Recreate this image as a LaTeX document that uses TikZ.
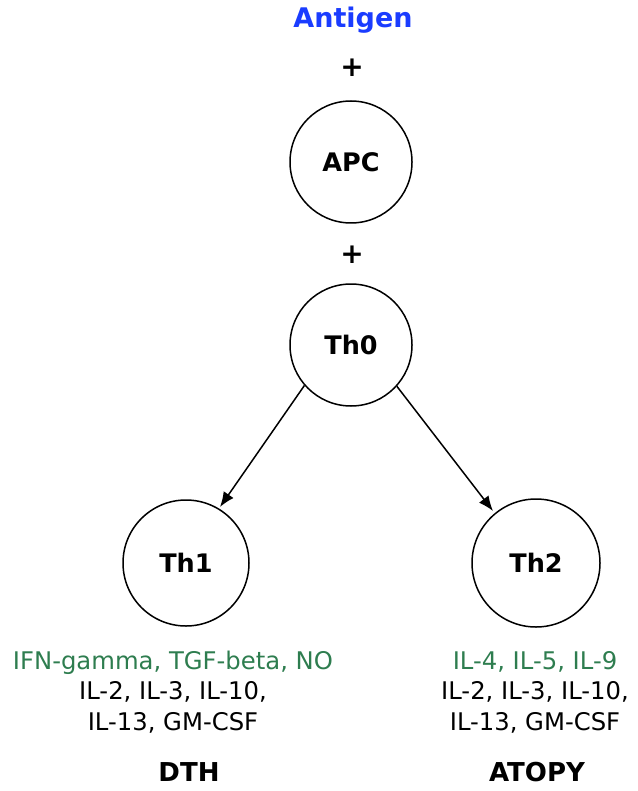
\documentclass[tikz,border=0pt]{standalone}
\usepackage{fontspec}
\setmainfont{DejaVu Sans}
\usetikzlibrary{arrows.meta}
\definecolor{antigenblue}{HTML}{1A3CFF}
\definecolor{cytogreen}{HTML}{2E7D4F}
\begin{document}
\begin{tikzpicture}[x=1pt,y=-1pt,
  cell/.style={circle, draw, line width=1.5pt, minimum size=122pt, inner sep=0pt, font=\fontsize{25.5}{30}\selectfont\bfseries},
  title/.style={font=\fontsize{26}{30}\selectfont\bfseries},
  sign/.style={font=\fontsize{28}{30}\selectfont\bfseries},
  cyto/.style={align=center, font=\fontsize{24.3}{30.5}\selectfont},
  link/.style={line width=1.5pt, -{Latex[length=15pt,width=12pt]}}]
\useasboundingbox (0,0) rectangle (637,791);
\node[title, font=\fontsize{27}{30}\selectfont\bfseries, text=antigenblue] (antigen) at (353,20) {Antigen};
\node[sign] (plus1) at (352,68) {+};
\node[cell] (apc) at (351,162) {APC};
\node[sign] (plus2) at (352,255) {+};
\node[cell] (th0) at (351,345) {Th0};
\node[cell, minimum size=126pt] (th1) at (186,563) {Th1};
\node[cell, minimum size=128pt] (th2) at (536,563) {Th2};
\coordinate (e1) at (220,507);
\coordinate (e2) at (493,511);
\draw[link] (th0.221) -- (e1);
\draw[link] (th0.318) -- (e2);
\node[cyto] (c1) at (173,692) {\textcolor{cytogreen}{IFN-gamma, TGF-beta, NO}\\IL-2, IL-3, IL-10,\\IL-13, GM-CSF};
\node[cyto] (c2) at (535,692) {\textcolor{cytogreen}{IL-4, IL-5, IL-9}\\IL-2, IL-3, IL-10,\\IL-13, GM-CSF};
\node[title] (dth) at (189,772) {DTH};
\node[title] (atopy) at (537,772) {ATOPY};
\end{tikzpicture}
\end{document}
